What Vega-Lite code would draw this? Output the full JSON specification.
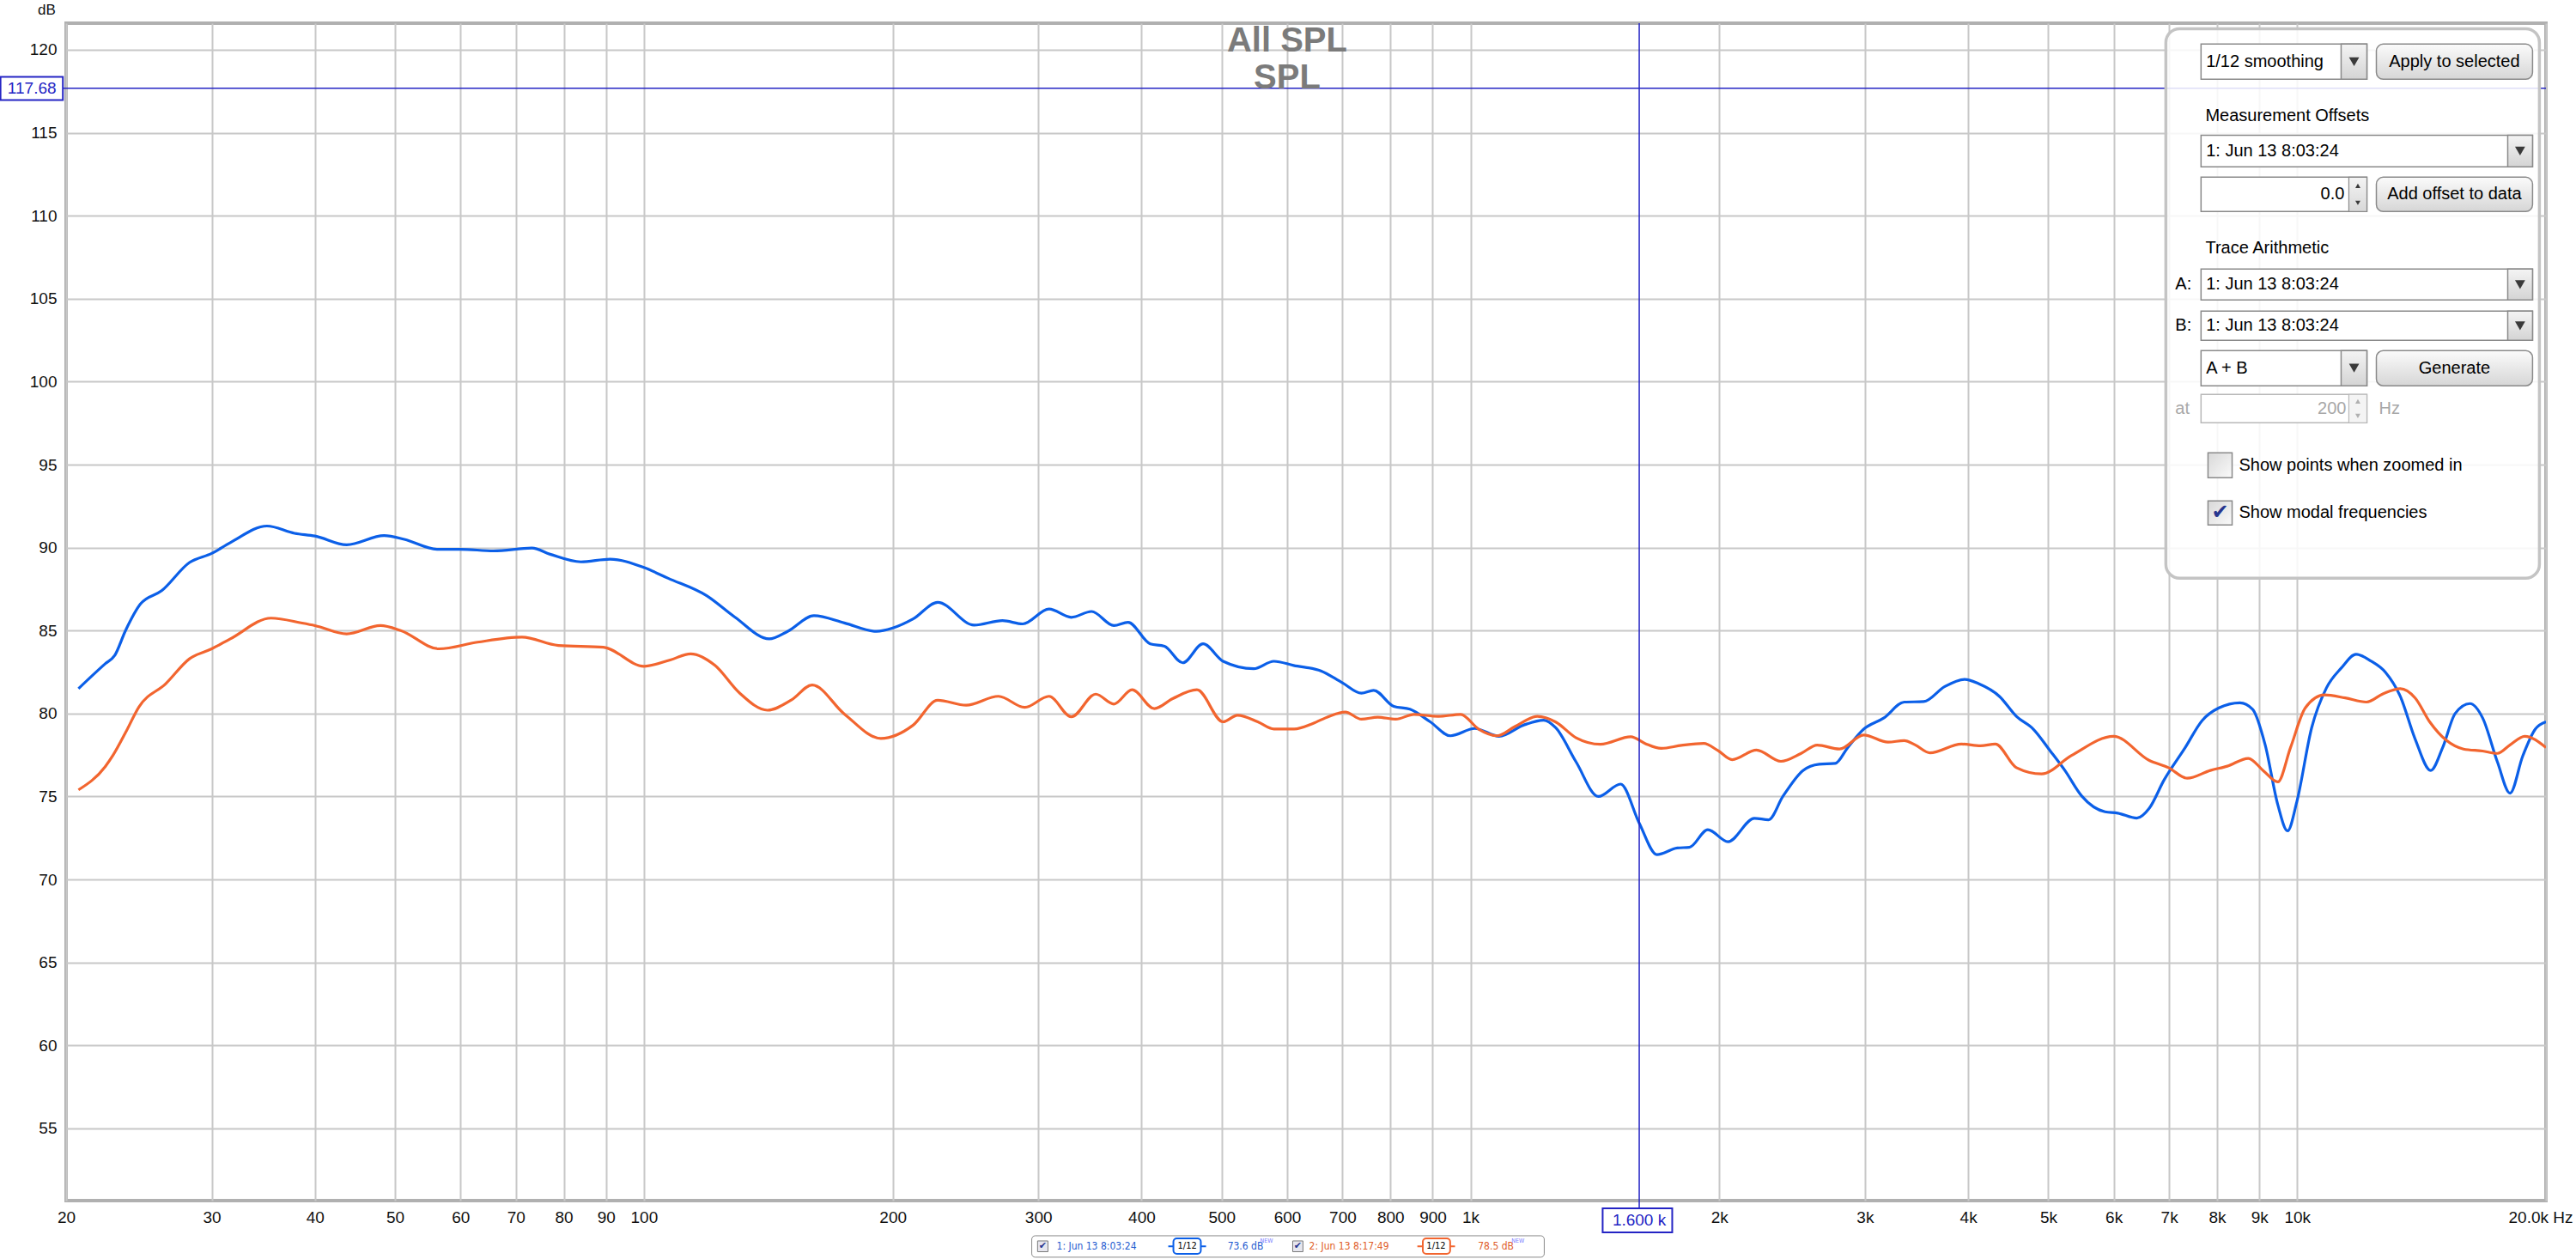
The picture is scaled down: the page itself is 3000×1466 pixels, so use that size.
{
  "$schema": "https://vega.github.io/schema/vega-lite/v6.json",
  "autosize": {"type": "none"},
  "width": 2888,
  "height": 1371,
  "padding": {"left": 77, "top": 27, "right": 35, "bottom": 68},
  "background": "white",
  "config": {
    "font": "Liberation Sans",
    "view": {"stroke": "#b0b0b0", "strokeWidth": 4},
    "axis": {"grid": true, "gridColor": "#c8c8c8", "gridWidth": 2, "domain": false, "ticks": false, "tickSize": 0, "labelFont": "Liberation Sans", "labelFontSize": 19, "labelColor": "#111111"}
  },
  "datasets": {
    "spl": [
      {"freq":20.7,"spl":81.5,"trace":"1"},{"freq":22.3,"spl":83.0,"trace":"1"},{"freq":22.9,"spl":83.5,"trace":"1"},{"freq":23.6,"spl":85.0,"trace":"1"},{"freq":24.6,"spl":86.6,"trace":"1"},{"freq":26.1,"spl":87.4,"trace":"1"},{"freq":28.2,"spl":89.1,"trace":"1"},{"freq":30,"spl":89.65,"trace":"1"},{"freq":31.6,"spl":90.3,"trace":"1"},{"freq":35,"spl":91.3,"trace":"1"},{"freq":37.8,"spl":90.86,"trace":"1"},{"freq":40,"spl":90.7,"trace":"1"},{"freq":43.7,"spl":90.17,"trace":"1"},{"freq":48.5,"spl":90.72,"trace":"1"},{"freq":51.3,"spl":90.5,"trace":"1"},{"freq":56.2,"spl":89.9,"trace":"1"},{"freq":60,"spl":89.9,"trace":"1"},{"freq":65.8,"spl":89.8,"trace":"1"},{"freq":73.2,"spl":89.97,"trace":"1"},{"freq":77,"spl":89.6,"trace":"1"},{"freq":83.9,"spl":89.14,"trace":"1"},{"freq":91,"spl":89.3,"trace":"1"},{"freq":100,"spl":88.8,"trace":"1"},{"freq":107,"spl":88.15,"trace":"1"},{"freq":119.1,"spl":87.1,"trace":"1"},{"freq":128.9,"spl":85.8,"trace":"1"},{"freq":141.8,"spl":84.5,"trace":"1"},{"freq":149.2,"spl":84.95,"trace":"1"},{"freq":160.6,"spl":85.9,"trace":"1"},{"freq":174.8,"spl":85.46,"trace":"1"},{"freq":191.2,"spl":84.95,"trace":"1"},{"freq":200,"spl":85.15,"trace":"1"},{"freq":211.7,"spl":85.7,"trace":"1"},{"freq":226.7,"spl":86.7,"trace":"1"},{"freq":250.9,"spl":85.33,"trace":"1"},{"freq":271.5,"spl":85.6,"trace":"1"},{"freq":287.3,"spl":85.4,"trace":"1"},{"freq":309.1,"spl":86.3,"trace":"1"},{"freq":328.9,"spl":85.8,"trace":"1"},{"freq":348,"spl":86.15,"trace":"1"},{"freq":370.3,"spl":85.3,"trace":"1"},{"freq":385.2,"spl":85.5,"trace":"1"},{"freq":409.8,"spl":84.2,"trace":"1"},{"freq":426.4,"spl":84.06,"trace":"1"},{"freq":448.6,"spl":83.06,"trace":"1"},{"freq":474.7,"spl":84.2,"trace":"1"},{"freq":502,"spl":83.15,"trace":"1"},{"freq":546.6,"spl":82.7,"trace":"1"},{"freq":578.3,"spl":83.15,"trace":"1"},{"freq":611,"spl":82.9,"trace":"1"},{"freq":659.3,"spl":82.57,"trace":"1"},{"freq":700,"spl":81.85,"trace":"1"},{"freq":738,"spl":81.23,"trace":"1"},{"freq":763.5,"spl":81.4,"trace":"1"},{"freq":807.5,"spl":80.43,"trace":"1"},{"freq":844.7,"spl":80.26,"trace":"1"},{"freq":893.9,"spl":79.5,"trace":"1"},{"freq":945.7,"spl":78.66,"trace":"1"},{"freq":1012,"spl":79.1,"trace":"1"},{"freq":1083,"spl":78.63,"trace":"1"},{"freq":1159,"spl":79.3,"trace":"1"},{"freq":1226,"spl":79.6,"trace":"1"},{"freq":1268,"spl":79.14,"trace":"1"},{"freq":1342,"spl":77.08,"trace":"1"},{"freq":1428,"spl":75.0,"trace":"1"},{"freq":1519,"spl":75.75,"trace":"1"},{"freq":1600,"spl":73.4,"trace":"1"},{"freq":1681,"spl":71.5,"trace":"1"},{"freq":1779,"spl":71.9,"trace":"1"},{"freq":1840,"spl":71.94,"trace":"1"},{"freq":1937,"spl":73.0,"trace":"1"},{"freq":2049,"spl":72.28,"trace":"1"},{"freq":2205,"spl":73.69,"trace":"1"},{"freq":2294,"spl":73.6,"trace":"1"},{"freq":2387,"spl":75.0,"trace":"1"},{"freq":2525,"spl":76.57,"trace":"1"},{"freq":2641,"spl":76.95,"trace":"1"},{"freq":2763,"spl":77.0,"trace":"1"},{"freq":2859,"spl":77.94,"trace":"1"},{"freq":2990,"spl":79.06,"trace":"1"},{"freq":3164,"spl":79.74,"trace":"1"},{"freq":3347,"spl":80.69,"trace":"1"},{"freq":3535,"spl":80.72,"trace":"1"},{"freq":3748,"spl":81.63,"trace":"1"},{"freq":3964,"spl":82.06,"trace":"1"},{"freq":4117,"spl":81.8,"trace":"1"},{"freq":4365,"spl":81.03,"trace":"1"},{"freq":4575,"spl":79.83,"trace":"1"},{"freq":4796,"spl":79.06,"trace":"1"},{"freq":5024,"spl":77.77,"trace":"1"},{"freq":5237,"spl":76.57,"trace":"1"},{"freq":5488,"spl":75.03,"trace":"1"},{"freq":5856,"spl":74.08,"trace":"1"},{"freq":6068,"spl":74.0,"trace":"1"},{"freq":6398,"spl":73.7,"trace":"1"},{"freq":6626,"spl":74.3,"trace":"1"},{"freq":6904,"spl":76.0,"trace":"1"},{"freq":7320,"spl":77.94,"trace":"1"},{"freq":7673,"spl":79.57,"trace":"1"},{"freq":8043,"spl":80.34,"trace":"1"},{"freq":8528,"spl":80.65,"trace":"1"},{"freq":8833,"spl":80.26,"trace":"1"},{"freq":9149,"spl":78.11,"trace":"1"},{"freq":9477,"spl":74.5,"trace":"1"},{"freq":9737,"spl":72.93,"trace":"1"},{"freq":9992,"spl":74.68,"trace":"1"},{"freq":10413,"spl":79.14,"trace":"1"},{"freq":10850,"spl":81.54,"trace":"1"},{"freq":11308,"spl":82.74,"trace":"1"},{"freq":11784,"spl":83.57,"trace":"1"},{"freq":12279,"spl":83.17,"trace":"1"},{"freq":12794,"spl":82.48,"trace":"1"},{"freq":13331,"spl":81.03,"trace":"1"},{"freq":13893,"spl":78.46,"trace":"1"},{"freq":14509,"spl":76.57,"trace":"1"},{"freq":14997,"spl":77.94,"trace":"1"},{"freq":15530,"spl":80.0,"trace":"1"},{"freq":16184,"spl":80.6,"trace":"1"},{"freq":16764,"spl":79.74,"trace":"1"},{"freq":17472,"spl":77.08,"trace":"1"},{"freq":18097,"spl":75.2,"trace":"1"},{"freq":18745,"spl":77.43,"trace":"1"},{"freq":19414,"spl":79.06,"trace":"1"},{"freq":20000,"spl":79.5,"trace":"1"},
      {"freq":20.7,"spl":75.4,"trace":"2"},{"freq":22.3,"spl":76.8,"trace":"2"},{"freq":22.8,"spl":77.5,"trace":"2"},{"freq":23.6,"spl":78.85,"trace":"2"},{"freq":24.5,"spl":80.4,"trace":"2"},{"freq":26.4,"spl":81.8,"trace":"2"},{"freq":28.2,"spl":83.3,"trace":"2"},{"freq":30,"spl":83.9,"trace":"2"},{"freq":31.6,"spl":84.5,"trace":"2"},{"freq":35.4,"spl":85.75,"trace":"2"},{"freq":38.6,"spl":85.45,"trace":"2"},{"freq":40,"spl":85.3,"trace":"2"},{"freq":43.7,"spl":84.8,"trace":"2"},{"freq":48,"spl":85.3,"trace":"2"},{"freq":50.8,"spl":85.0,"trace":"2"},{"freq":56.5,"spl":83.9,"trace":"2"},{"freq":62.9,"spl":84.3,"trace":"2"},{"freq":71.2,"spl":84.6,"trace":"2"},{"freq":78.8,"spl":84.1,"trace":"2"},{"freq":89.3,"spl":84.0,"trace":"2"},{"freq":100,"spl":82.85,"trace":"2"},{"freq":107.6,"spl":83.23,"trace":"2"},{"freq":113.9,"spl":83.6,"trace":"2"},{"freq":121.9,"spl":82.9,"trace":"2"},{"freq":130.4,"spl":81.26,"trace":"2"},{"freq":141.1,"spl":80.2,"trace":"2"},{"freq":150.9,"spl":80.83,"trace":"2"},{"freq":159.8,"spl":81.72,"trace":"2"},{"freq":174.8,"spl":79.97,"trace":"2"},{"freq":193.5,"spl":78.5,"trace":"2"},{"freq":211.7,"spl":79.3,"trace":"2"},{"freq":226.7,"spl":80.8,"trace":"2"},{"freq":245.4,"spl":80.5,"trace":"2"},{"freq":268.5,"spl":81.04,"trace":"2"},{"freq":288.9,"spl":80.37,"trace":"2"},{"freq":309.1,"spl":81.04,"trace":"2"},{"freq":328.9,"spl":79.8,"trace":"2"},{"freq":352,"spl":81.17,"trace":"2"},{"freq":370.3,"spl":80.57,"trace":"2"},{"freq":389.6,"spl":81.43,"trace":"2"},{"freq":414.5,"spl":80.3,"trace":"2"},{"freq":436.2,"spl":80.9,"trace":"2"},{"freq":466.7,"spl":81.43,"trace":"2"},{"freq":502,"spl":79.5,"trace":"2"},{"freq":522.5,"spl":79.9,"trace":"2"},{"freq":552.9,"spl":79.5,"trace":"2"},{"freq":578.3,"spl":79.07,"trace":"2"},{"freq":611.9,"spl":79.07,"trace":"2"},{"freq":644.6,"spl":79.4,"trace":"2"},{"freq":674.3,"spl":79.83,"trace":"2"},{"freq":705.4,"spl":80.09,"trace":"2"},{"freq":738,"spl":79.66,"trace":"2"},{"freq":772.2,"spl":79.78,"trace":"2"},{"freq":812.1,"spl":79.66,"trace":"2"},{"freq":854.3,"spl":79.95,"trace":"2"},{"freq":914.1,"spl":79.83,"trace":"2"},{"freq":972.9,"spl":79.95,"trace":"2"},{"freq":1023,"spl":79.06,"trace":"2"},{"freq":1077,"spl":78.66,"trace":"2"},{"freq":1133,"spl":79.23,"trace":"2"},{"freq":1205,"spl":79.83,"trace":"2"},{"freq":1268,"spl":79.49,"trace":"2"},{"freq":1342,"spl":78.54,"trace":"2"},{"freq":1436,"spl":78.15,"trace":"2"},{"freq":1563,"spl":78.6,"trace":"2"},{"freq":1626,"spl":78.2,"trace":"2"},{"freq":1701,"spl":77.9,"trace":"2"},{"freq":1800,"spl":78.08,"trace":"2"},{"freq":1915,"spl":78.2,"trace":"2"},{"freq":1992,"spl":77.77,"trace":"2"},{"freq":2073,"spl":77.22,"trace":"2"},{"freq":2218,"spl":77.8,"trace":"2"},{"freq":2374,"spl":77.12,"trace":"2"},{"freq":2512,"spl":77.6,"trace":"2"},{"freq":2627,"spl":78.1,"trace":"2"},{"freq":2795,"spl":77.86,"trace":"2"},{"freq":2990,"spl":78.71,"trace":"2"},{"freq":3200,"spl":78.28,"trace":"2"},{"freq":3347,"spl":78.37,"trace":"2"},{"freq":3451,"spl":78.11,"trace":"2"},{"freq":3596,"spl":77.63,"trace":"2"},{"freq":3926,"spl":78.16,"trace":"2"},{"freq":4140,"spl":78.06,"trace":"2"},{"freq":4315,"spl":78.16,"trace":"2"},{"freq":4575,"spl":76.74,"trace":"2"},{"freq":4908,"spl":76.36,"trace":"2"},{"freq":5330,"spl":77.46,"trace":"2"},{"freq":5997,"spl":78.63,"trace":"2"},{"freq":6626,"spl":77.17,"trace":"2"},{"freq":6988,"spl":76.74,"trace":"2"},{"freq":7363,"spl":76.1,"trace":"2"},{"freq":7853,"spl":76.57,"trace":"2"},{"freq":8234,"spl":76.83,"trace":"2"},{"freq":8730,"spl":77.3,"trace":"2"},{"freq":9096,"spl":76.57,"trace":"2"},{"freq":9477,"spl":75.88,"trace":"2"},{"freq":9817,"spl":77.94,"trace":"2"},{"freq":10231,"spl":80.34,"trace":"2"},{"freq":10786,"spl":81.12,"trace":"2"},{"freq":11433,"spl":80.94,"trace":"2"},{"freq":12130,"spl":80.69,"trace":"2"},{"freq":12713,"spl":81.2,"trace":"2"},{"freq":13331,"spl":81.5,"trace":"2"},{"freq":13893,"spl":80.94,"trace":"2"},{"freq":14473,"spl":79.49,"trace":"2"},{"freq":15167,"spl":78.37,"trace":"2"},{"freq":15895,"spl":77.86,"trace":"2"},{"freq":16764,"spl":77.74,"trace":"2"},{"freq":17472,"spl":77.6,"trace":"2"},{"freq":18097,"spl":78.11,"trace":"2"},{"freq":18853,"spl":78.63,"trace":"2"},{"freq":20000,"spl":77.95,"trace":"2"}
    ]
  },
  "data": {"values": [{}]},
  "layer": [
    {
      "data": {"name": "spl"},
      "mark": {"type": "line", "strokeWidth": 3.2, "interpolate": "monotone", "clip": true},
      "encoding": {
        "x": {"field": "freq", "type": "quantitative",
              "scale": {"type": "log", "domain": [20, 20000], "nice": false},
              "axis": {"title": null, "values": [20,30,40,50,60,70,80,90,100,200,300,400,500,600,700,800,900,1000,2000,3000,4000,5000,6000,7000,8000,9000,10000,20000],
                       "labelExpr": "datum.value >= 20000 ? '20.0k Hz' : (datum.value >= 1000 ? format(datum.value/1000, 'd') + 'k' : format(datum.value, 'd'))",
                       "labelAlign": {"condition": {"test": "datum.value >= 20000", "value": "right"}, "value": "center"},
                       "labelOffset": {"condition": {"test": "datum.value >= 20000", "value": 31}, "value": 0},
                       "labelPadding": 10, "labelFlush": false, "labelOverlap": false, "labelBound": false}},
        "y": {"field": "spl", "type": "quantitative",
              "scale": {"domain": [50.65, 121.6], "nice": false, "zero": false},
              "axis": {"values": [55,60,65,70,75,80,85,90,95,100,105,110,115,120], "labelPadding": 11,
                       "title": "dB", "titleAngle": 0, "titleX": -23, "titleY": -16, "titleFontSize": 17, "titleFontWeight": "normal", "titleAlign": "center", "titleBaseline": "middle", "titleColor": "#111111"}},
        "color": {"field": "trace", "type": "nominal", "scale": {"domain": ["1", "2"], "range": ["#0b5fe8", "#f2652f"]}, "legend": null}
      }
    },
    {"mark": {"type": "rule", "color": "#2424c4", "strokeWidth": 1.5}, "encoding": {"x": {"datum": 19.82}, "x2": {"datum": 20000}, "y": {"datum": 117.68}}},
    {"mark": {"type": "rule", "color": "#2424c4", "strokeWidth": 1.5}, "encoding": {"x": {"datum": 1600}, "y": {"datum": 50.2}, "y2": {"datum": 121.6}}},
    {"mark": {"type": "text", "fontSize": 40, "fontWeight": "bold", "color": "#7b7b7b", "baseline": "middle", "align": "center"}, "encoding": {"x": {"datum": 600}, "y": {"datum": 120.5}, "text": {"value": "All SPL"}}},
    {"mark": {"type": "text", "fontSize": 40, "fontWeight": "bold", "color": "#7b7b7b", "baseline": "middle", "align": "center"}, "encoding": {"x": {"datum": 600}, "y": {"datum": 118.3}, "text": {"value": "SPL"}}},

    {"mark": {"type": "rect", "fill": "white", "fillOpacity": 0.85, "stroke": "#c4c4c4", "strokeWidth": 3.5, "cornerRadius": 16}, "encoding": {"x": {"datum": 6938}, "x2": {"datum": 19640}, "y": {"datum": 121.27}, "y2": {"datum": 88.16}}},

    {"mark": {"type": "rect", "fill": "white", "stroke": "#8a8a8a", "strokeWidth": 1.5}, "encoding": {"x": {"datum": 7652}, "x2": {"datum": 12146}, "y": {"datum": 120.34}, "y2": {"datum": 118.22}}},
    {"mark": {"type": "rect", "fill": "white", "stroke": "#8a8a8a", "strokeWidth": 1.5}, "encoding": {"x": {"datum": 7652}, "x2": {"datum": 19268}, "y": {"datum": 114.85}, "y2": {"datum": 112.94}}},
    {"mark": {"type": "rect", "fill": "white", "stroke": "#8a8a8a", "strokeWidth": 1.5}, "encoding": {"x": {"datum": 7652}, "x2": {"datum": 12146}, "y": {"datum": 112.32}, "y2": {"datum": 110.25}}},
    {"mark": {"type": "rect", "fill": "white", "stroke": "#8a8a8a", "strokeWidth": 1.5}, "encoding": {"x": {"datum": 7652}, "x2": {"datum": 19268}, "y": {"datum": 106.78}, "y2": {"datum": 104.92}}},
    {"mark": {"type": "rect", "fill": "white", "stroke": "#8a8a8a", "strokeWidth": 1.5}, "encoding": {"x": {"datum": 7652}, "x2": {"datum": 19268}, "y": {"datum": 104.25}, "y2": {"datum": 102.49}}},
    {"mark": {"type": "rect", "fill": "white", "stroke": "#8a8a8a", "strokeWidth": 1.5}, "encoding": {"x": {"datum": 7652}, "x2": {"datum": 12146}, "y": {"datum": 101.87}, "y2": {"datum": 99.75}}},
    {"mark": {"type": "rect", "fill": "white", "stroke": "#b8b8b8", "strokeWidth": 1.5}, "encoding": {"x": {"datum": 7652}, "x2": {"datum": 12146}, "y": {"datum": 99.23}, "y2": {"datum": 97.52}}},

    {"mark": {"type": "rect", "stroke": "#8a8a8a", "strokeWidth": 1.5, "fill": {"gradient": "linear", "x1": 0, "y1": 0, "x2": 0, "y2": 1, "stops": [{"offset": 0, "color": "#f4f4f4"}, {"offset": 1, "color": "#d4d4d4"}]}}, "encoding": {"x": {"datum": 11304}, "x2": {"datum": 12146}, "y": {"datum": 120.34}, "y2": {"datum": 118.22}}},
    {"mark": {"type": "rect", "stroke": "#8a8a8a", "strokeWidth": 1.5, "fill": {"gradient": "linear", "x1": 0, "y1": 0, "x2": 0, "y2": 1, "stops": [{"offset": 0, "color": "#f4f4f4"}, {"offset": 1, "color": "#d4d4d4"}]}}, "encoding": {"x": {"datum": 17980}, "x2": {"datum": 19268}, "y": {"datum": 114.85}, "y2": {"datum": 112.94}}},
    {"mark": {"type": "rect", "stroke": "#8a8a8a", "strokeWidth": 1.5, "fill": {"gradient": "linear", "x1": 0, "y1": 0, "x2": 0, "y2": 1, "stops": [{"offset": 0, "color": "#f4f4f4"}, {"offset": 1, "color": "#d4d4d4"}]}}, "encoding": {"x": {"datum": 17980}, "x2": {"datum": 19268}, "y": {"datum": 106.78}, "y2": {"datum": 104.92}}},
    {"mark": {"type": "rect", "stroke": "#8a8a8a", "strokeWidth": 1.5, "fill": {"gradient": "linear", "x1": 0, "y1": 0, "x2": 0, "y2": 1, "stops": [{"offset": 0, "color": "#f4f4f4"}, {"offset": 1, "color": "#d4d4d4"}]}}, "encoding": {"x": {"datum": 17980}, "x2": {"datum": 19268}, "y": {"datum": 104.25}, "y2": {"datum": 102.49}}},
    {"mark": {"type": "rect", "stroke": "#8a8a8a", "strokeWidth": 1.5, "fill": {"gradient": "linear", "x1": 0, "y1": 0, "x2": 0, "y2": 1, "stops": [{"offset": 0, "color": "#f4f4f4"}, {"offset": 1, "color": "#d4d4d4"}]}}, "encoding": {"x": {"datum": 11304}, "x2": {"datum": 12146}, "y": {"datum": 101.87}, "y2": {"datum": 99.75}}},
    {"mark": {"type": "rect", "stroke": "#8a8a8a", "strokeWidth": 1.2, "fill": {"gradient": "linear", "x1": 0, "y1": 0, "x2": 0, "y2": 1, "stops": [{"offset": 0, "color": "#f4f4f4"}, {"offset": 1, "color": "#d8d8d8"}]}}, "encoding": {"x": {"datum": 11550}, "x2": {"datum": 12146}, "y": {"datum": 112.32}, "y2": {"datum": 110.25}}},
    {"mark": {"type": "rect", "stroke": "#b8b8b8", "strokeWidth": 1.2, "fill": "#f4f4f4"}, "encoding": {"x": {"datum": 11550}, "x2": {"datum": 12146}, "y": {"datum": 99.23}, "y2": {"datum": 97.52}}},

    {"mark": {"type": "point", "shape": "triangle-down", "filled": true, "color": "#3a3a3a", "opacity": 1, "size": 140}, "encoding": {"x": {"datum": 11720}, "y": {"datum": 119.28}}},
    {"mark": {"type": "point", "shape": "triangle-down", "filled": true, "color": "#3a3a3a", "opacity": 1, "size": 140}, "encoding": {"x": {"datum": 18610}, "y": {"datum": 113.9}}},
    {"mark": {"type": "point", "shape": "triangle-down", "filled": true, "color": "#3a3a3a", "opacity": 1, "size": 140}, "encoding": {"x": {"datum": 18610}, "y": {"datum": 105.85}}},
    {"mark": {"type": "point", "shape": "triangle-down", "filled": true, "color": "#3a3a3a", "opacity": 1, "size": 140}, "encoding": {"x": {"datum": 18610}, "y": {"datum": 103.37}}},
    {"mark": {"type": "point", "shape": "triangle-down", "filled": true, "color": "#3a3a3a", "opacity": 1, "size": 140}, "encoding": {"x": {"datum": 11720}, "y": {"datum": 100.81}}},
    {"mark": {"type": "point", "shape": "triangle-up", "filled": true, "color": "#3a3a3a", "opacity": 1, "size": 35}, "encoding": {"x": {"datum": 11844}, "y": {"datum": 111.8}}},
    {"mark": {"type": "point", "shape": "triangle-down", "filled": true, "color": "#3a3a3a", "opacity": 1, "size": 35}, "encoding": {"x": {"datum": 11844}, "y": {"datum": 110.77}}},
    {"mark": {"type": "point", "shape": "triangle-up", "filled": true, "color": "#b0b0b0", "opacity": 1, "size": 35}, "encoding": {"x": {"datum": 11844}, "y": {"datum": 98.81}}},
    {"mark": {"type": "point", "shape": "triangle-down", "filled": true, "color": "#b0b0b0", "opacity": 1, "size": 35}, "encoding": {"x": {"datum": 11844}, "y": {"datum": 97.93}}},

    {"mark": {"type": "rect", "stroke": "#8a8a8a", "strokeWidth": 1.5, "cornerRadius": 8, "fill": {"gradient": "linear", "x1": 0, "y1": 0, "x2": 0, "y2": 1, "stops": [{"offset": 0, "color": "#fbfbfb"}, {"offset": 1, "color": "#d6d6d6"}]}}, "encoding": {"x": {"datum": 12470}, "x2": {"datum": 19268}, "y": {"datum": 120.34}, "y2": {"datum": 118.22}}},
    {"mark": {"type": "rect", "stroke": "#8a8a8a", "strokeWidth": 1.5, "cornerRadius": 8, "fill": {"gradient": "linear", "x1": 0, "y1": 0, "x2": 0, "y2": 1, "stops": [{"offset": 0, "color": "#fbfbfb"}, {"offset": 1, "color": "#d6d6d6"}]}}, "encoding": {"x": {"datum": 12470}, "x2": {"datum": 19268}, "y": {"datum": 112.32}, "y2": {"datum": 110.25}}},
    {"mark": {"type": "rect", "stroke": "#8a8a8a", "strokeWidth": 1.5, "cornerRadius": 8, "fill": {"gradient": "linear", "x1": 0, "y1": 0, "x2": 0, "y2": 1, "stops": [{"offset": 0, "color": "#fbfbfb"}, {"offset": 1, "color": "#d6d6d6"}]}}, "encoding": {"x": {"datum": 12470}, "x2": {"datum": 19268}, "y": {"datum": 101.87}, "y2": {"datum": 99.75}}},

    {"mark": {"type": "rect", "stroke": "#8a8a8a", "strokeWidth": 1.5, "fill": {"gradient": "linear", "x1": 0, "y1": 0, "x2": 1, "y2": 1, "stops": [{"offset": 0, "color": "#d8d8d8"}, {"offset": 1, "color": "#fafafa"}]}}, "encoding": {"x": {"datum": 7802}, "x2": {"datum": 8344}, "y": {"datum": 95.71}, "y2": {"datum": 94.21}}},
    {"mark": {"type": "rect", "stroke": "#8a8a8a", "strokeWidth": 1.5, "fill": {"gradient": "linear", "x1": 0, "y1": 0, "x2": 1, "y2": 1, "stops": [{"offset": 0, "color": "#d8d8d8"}, {"offset": 1, "color": "#fafafa"}]}}, "encoding": {"x": {"datum": 7802}, "x2": {"datum": 8344}, "y": {"datum": 92.81}, "y2": {"datum": 91.37}}},
    {"mark": {"type": "text", "font": "DejaVu Sans", "fontSize": 24, "color": "#27368f", "align": "center", "baseline": "middle"}, "encoding": {"x": {"datum": 8068}, "y": {"datum": 92.09}, "text": {"value": "✔"}}},

    {"mark": {"type": "text", "fontSize": 20, "color": "#000000", "align": "left", "baseline": "middle"}, "encoding": {"x": {"datum": 7760}, "y": {"datum": 119.28}, "text": {"value": "1/12 smoothing"}}},
    {"mark": {"type": "text", "fontSize": 20, "color": "#000000", "align": "center", "baseline": "middle"}, "encoding": {"x": {"datum": 15500}, "y": {"datum": 119.28}, "text": {"value": "Apply to selected"}}},
    {"mark": {"type": "text", "fontSize": 20, "color": "#000000", "align": "left", "baseline": "middle"}, "encoding": {"x": {"datum": 7746}, "y": {"datum": 115.99}, "text": {"value": "Measurement Offsets"}}},
    {"mark": {"type": "text", "fontSize": 20, "color": "#000000", "align": "left", "baseline": "middle"}, "encoding": {"x": {"datum": 7760}, "y": {"datum": 113.9}, "text": {"value": "1: Jun 13 8:03:24"}}},
    {"mark": {"type": "text", "fontSize": 20, "color": "#000000", "align": "right", "baseline": "middle"}, "encoding": {"x": {"datum": 11412}, "y": {"datum": 111.28}, "text": {"value": "0.0"}}},
    {"mark": {"type": "text", "fontSize": 20, "color": "#000000", "align": "center", "baseline": "middle"}, "encoding": {"x": {"datum": 15500}, "y": {"datum": 111.28}, "text": {"value": "Add offset to data"}}},
    {"mark": {"type": "text", "fontSize": 20, "color": "#000000", "align": "left", "baseline": "middle"}, "encoding": {"x": {"datum": 7746}, "y": {"datum": 108.02}, "text": {"value": "Trace Arithmetic"}}},
    {"mark": {"type": "text", "fontSize": 20, "color": "#000000", "align": "left", "baseline": "middle"}, "encoding": {"x": {"datum": 7122}, "y": {"datum": 105.85}, "text": {"value": "A:"}}},
    {"mark": {"type": "text", "fontSize": 20, "color": "#000000", "align": "left", "baseline": "middle"}, "encoding": {"x": {"datum": 7760}, "y": {"datum": 105.85}, "text": {"value": "1: Jun 13 8:03:24"}}},
    {"mark": {"type": "text", "fontSize": 20, "color": "#000000", "align": "left", "baseline": "middle"}, "encoding": {"x": {"datum": 7122}, "y": {"datum": 103.37}, "text": {"value": "B:"}}},
    {"mark": {"type": "text", "fontSize": 20, "color": "#000000", "align": "left", "baseline": "middle"}, "encoding": {"x": {"datum": 7760}, "y": {"datum": 103.37}, "text": {"value": "1: Jun 13 8:03:24"}}},
    {"mark": {"type": "text", "fontSize": 20, "color": "#000000", "align": "left", "baseline": "middle"}, "encoding": {"x": {"datum": 7760}, "y": {"datum": 100.81}, "text": {"value": "A + B"}}},
    {"mark": {"type": "text", "fontSize": 20, "color": "#000000", "align": "center", "baseline": "middle"}, "encoding": {"x": {"datum": 15500}, "y": {"datum": 100.81}, "text": {"value": "Generate"}}},
    {"mark": {"type": "text", "fontSize": 20, "color": "#a8a8a8", "align": "left", "baseline": "middle"}, "encoding": {"x": {"datum": 7122}, "y": {"datum": 98.38}, "text": {"value": "at"}}},
    {"mark": {"type": "text", "fontSize": 20, "color": "#a8a8a8", "align": "right", "baseline": "middle"}, "encoding": {"x": {"datum": 11466}, "y": {"datum": 98.38}, "text": {"value": "200"}}},
    {"mark": {"type": "text", "fontSize": 20, "color": "#a8a8a8", "align": "left", "baseline": "middle"}, "encoding": {"x": {"datum": 12562}, "y": {"datum": 98.38}, "text": {"value": "Hz"}}},
    {"mark": {"type": "text", "fontSize": 20, "color": "#000000", "align": "left", "baseline": "middle"}, "encoding": {"x": {"datum": 8504}, "y": {"datum": 94.96}, "text": {"value": "Show points when zoomed in"}}},
    {"mark": {"type": "text", "fontSize": 20, "color": "#000000", "align": "left", "baseline": "middle"}, "encoding": {"x": {"datum": 8504}, "y": {"datum": 92.09}, "text": {"value": "Show modal frequencies"}}},

    {"mark": {"type": "rect", "fill": "white", "stroke": "#2424c4", "strokeWidth": 2}, "encoding": {"x": {"datum": 16.66}, "x2": {"datum": 19.82}, "y": {"datum": 118.37}, "y2": {"datum": 116.97}}},
    {"mark": {"type": "text", "fontSize": 19, "color": "#2424c4", "align": "right", "baseline": "middle"}, "encoding": {"x": {"datum": 19.46}, "y": {"datum": 117.68}, "text": {"value": "117.68"}}},
    {"mark": {"type": "rect", "fill": "white", "stroke": "#2424c4", "strokeWidth": 2}, "encoding": {"x": {"datum": 1445}, "x2": {"datum": 1754}, "y": {"datum": 50.19}, "y2": {"datum": 48.74}}},
    {"mark": {"type": "text", "fontSize": 19, "color": "#2424c4", "align": "center", "baseline": "middle"}, "encoding": {"x": {"datum": 1600}, "y": {"datum": 49.46}, "text": {"value": "1.600 k"}}},

    {"mark": {"type": "rect", "fill": "white", "stroke": "#8a8a8a", "strokeWidth": 1, "cornerRadius": 4}, "encoding": {"x": {"datum": 294.6}, "x2": {"datum": 1228}, "y": {"datum": 48.53}, "y2": {"datum": 47.24}}},
    {"mark": {"type": "rect", "stroke": "#7a7a7a", "strokeWidth": 1, "fill": "#e6e6ee"}, "encoding": {"x": {"datum": 299.4}, "x2": {"datum": 308.2}, "y": {"datum": 48.22}, "y2": {"datum": 47.57}}},
    {"mark": {"type": "text", "font": "DejaVu Sans", "fontSize": 11, "color": "#27368f", "align": "center", "baseline": "middle"}, "encoding": {"x": {"datum": 303.8}, "y": {"datum": 47.9}, "text": {"value": "✔"}}},
    {"mark": {"type": "text", "font": "Liberation Sans Narrow, DejaVu Sans Condensed, Liberation Sans", "fontSize": 12, "color": "#1f5bd0", "align": "left", "baseline": "middle"}, "encoding": {"x": {"datum": 315.7}, "y": {"datum": 47.9}, "text": {"value": "1: Jun 13 8:03:24"}}},
    {"mark": {"type": "rule", "color": "#0b5fe8", "strokeWidth": 2}, "encoding": {"x": {"datum": 430.9}, "x2": {"datum": 478.7}, "y": {"datum": 47.9}}},
    {"mark": {"type": "rect", "fill": "white", "stroke": "#0b5fe8", "strokeWidth": 2, "cornerRadius": 4}, "encoding": {"x": {"datum": 437.1}, "x2": {"datum": 471.8}, "y": {"datum": 48.37}, "y2": {"datum": 47.44}}},
    {"mark": {"type": "text", "font": "Liberation Sans Narrow, DejaVu Sans Condensed, Liberation Sans", "fontSize": 11, "color": "#000000", "align": "center", "baseline": "middle"}, "encoding": {"x": {"datum": 454.3}, "y": {"datum": 47.9}, "text": {"value": "1/12"}}},
    {"mark": {"type": "text", "font": "Liberation Sans Narrow, DejaVu Sans Condensed, Liberation Sans", "fontSize": 12, "color": "#1f5bd0", "align": "left", "baseline": "middle"}, "encoding": {"x": {"datum": 508.3}, "y": {"datum": 47.9}, "text": {"value": "73.6 dB"}}},
    {"mark": {"type": "text", "font": "Liberation Sans Narrow, DejaVu Sans Condensed, Liberation Sans", "fontSize": 7, "color": "#7a7aff", "align": "left", "baseline": "middle"}, "encoding": {"x": {"datum": 556.5}, "y": {"datum": 48.2}, "text": {"value": "NEW"}}},
    {"mark": {"type": "rect", "stroke": "#7a7a7a", "strokeWidth": 1, "fill": "#e6e6ee"}, "encoding": {"x": {"datum": 609.4}, "x2": {"datum": 627.1}, "y": {"datum": 48.22}, "y2": {"datum": 47.57}}},
    {"mark": {"type": "text", "font": "DejaVu Sans", "fontSize": 11, "color": "#27368f", "align": "center", "baseline": "middle"}, "encoding": {"x": {"datum": 618.2}, "y": {"datum": 47.9}, "text": {"value": "✔"}}},
    {"mark": {"type": "text", "font": "Liberation Sans Narrow, DejaVu Sans Condensed, Liberation Sans", "fontSize": 12, "color": "#e0602a", "align": "left", "baseline": "middle"}, "encoding": {"x": {"datum": 637.9}, "y": {"datum": 47.9}, "text": {"value": "2: Jun 13 8:17:49"}}},
    {"mark": {"type": "rule", "color": "#f2652f", "strokeWidth": 2}, "encoding": {"x": {"datum": 862.4}, "x2": {"datum": 957.8}, "y": {"datum": 47.9}}},
    {"mark": {"type": "rect", "fill": "white", "stroke": "#f2652f", "strokeWidth": 2, "cornerRadius": 4}, "encoding": {"x": {"datum": 875.6}, "x2": {"datum": 944.9}, "y": {"datum": 48.37}, "y2": {"datum": 47.44}}},
    {"mark": {"type": "text", "font": "Liberation Sans Narrow, DejaVu Sans Condensed, Liberation Sans", "fontSize": 11, "color": "#000000", "align": "center", "baseline": "middle"}, "encoding": {"x": {"datum": 908.6}, "y": {"datum": 47.9}, "text": {"value": "1/12"}}},
    {"mark": {"type": "text", "font": "Liberation Sans Narrow, DejaVu Sans Condensed, Liberation Sans", "fontSize": 12, "color": "#e0602a", "align": "left", "baseline": "middle"}, "encoding": {"x": {"datum": 1021}, "y": {"datum": 47.9}, "text": {"value": "78.5 dB"}}},
    {"mark": {"type": "text", "font": "Liberation Sans Narrow, DejaVu Sans Condensed, Liberation Sans", "fontSize": 7, "color": "#7a7aff", "align": "left", "baseline": "middle"}, "encoding": {"x": {"datum": 1121}, "y": {"datum": 48.2}, "text": {"value": "NEW"}}}
  ]
}
